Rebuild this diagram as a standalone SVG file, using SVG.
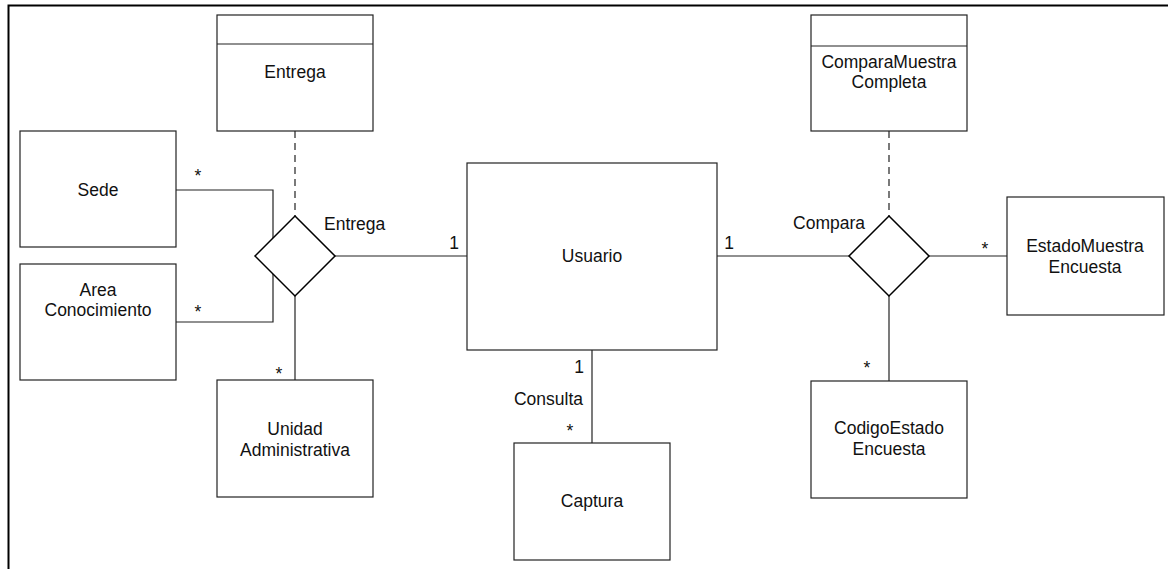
<svg xmlns="http://www.w3.org/2000/svg" width="1168" height="569" viewBox="0 0 1168 569">
<style>
.box{fill:#fff;stroke:#222;stroke-width:1.2}
.dia{fill:#fff;stroke:#000;stroke-width:1.5}
.ln{fill:none;stroke:#222;stroke-width:1.2}
.dash{fill:none;stroke:#222;stroke-width:1.2;stroke-dasharray:7,5}
text{font-family:"Liberation Sans",Arial,sans-serif;font-size:17.5px;fill:#111}
.c{text-anchor:middle}
.e{text-anchor:end}
</style>
<rect width="1168" height="569" fill="#fff"/>
<path d="M8.5,569 V5.5 H1168" fill="none" stroke="#000" stroke-width="2"/>
<g id="connectors">
<path class="ln" d="M176,190 H273 V322 H176"/>
<path class="ln" d="M335,256 H467"/>
<path class="ln" d="M295,296 V380"/>
<path class="dash" d="M295,131 V216"/>
<path class="ln" d="M717,256 H849"/>
<path class="ln" d="M929,256 H1007"/>
<path class="ln" d="M889,296 V381"/>
<path class="dash" d="M889,131 V216"/>
<path class="ln" d="M592,350 V443"/>
<text x="198" y="182" class="c">*</text>
<text x="198" y="318" class="c">*</text>
<text x="279" y="380" class="c">*</text>
<text x="454" y="249" class="c">1</text>
<text x="324" y="230">Entrega</text>
<text x="729" y="249" class="c">1</text>
<text x="865" y="229" class="e">Compara</text>
<text x="985" y="255" class="c">*</text>
<text x="867" y="374" class="c">*</text>
<text x="579" y="373" class="c">1</text>
<text x="583" y="405" class="e">Consulta</text>
<text x="570" y="437" class="c">*</text>
</g>
<g id="entrega-class">
<rect class="box" x="217" y="15" width="156" height="116"/>
<path class="ln" d="M217,44 H373"/>
<text x="295" y="78" class="c">Entrega</text>
</g>
<g id="sede">
<rect class="box" x="20" y="131" width="156" height="116"/>
<text x="98" y="196" class="c">Sede</text>
</g>
<g id="area">
<rect class="box" x="20" y="264" width="156" height="116"/>
<text x="98" y="296" class="c">Area</text>
<text x="98" y="316" class="c">Conocimiento</text>
</g>
<g id="entrega-rel">
<path class="dia" d="M295,216 L335,256 L295,296 L255,256 Z"/>
</g>
<g id="unidad">
<rect class="box" x="217" y="380" width="156" height="117"/>
<text x="295" y="435" class="c">Unidad</text>
<text x="295" y="456" class="c">Administrativa</text>
</g>
<g id="usuario">
<rect class="box" x="467" y="163" width="250" height="187"/>
<text x="592" y="262" class="c">Usuario</text>
</g>
<g id="captura">
<rect class="box" x="514" y="443" width="156" height="117"/>
<text x="592" y="507" class="c">Captura</text>
</g>
<g id="compara-class">
<rect class="box" x="811" y="15" width="156" height="116"/>
<path class="ln" d="M811,46 H967"/>
<text x="889" y="68" class="c">ComparaMuestra</text>
<text x="889" y="88" class="c">Completa</text>
</g>
<g id="compara-rel">
<path class="dia" d="M889,216 L929,256 L889,296 L849,256 Z"/>
</g>
<g id="estado">
<rect class="box" x="1007" y="197" width="157" height="118"/>
<text x="1085" y="252" class="c">EstadoMuestra</text>
<text x="1085" y="273" class="c">Encuesta</text>
</g>
<g id="codigo">
<rect class="box" x="811" y="381" width="156" height="117"/>
<text x="889" y="434" class="c">CodigoEstado</text>
<text x="889" y="455" class="c">Encuesta</text>
</g>
</svg>
